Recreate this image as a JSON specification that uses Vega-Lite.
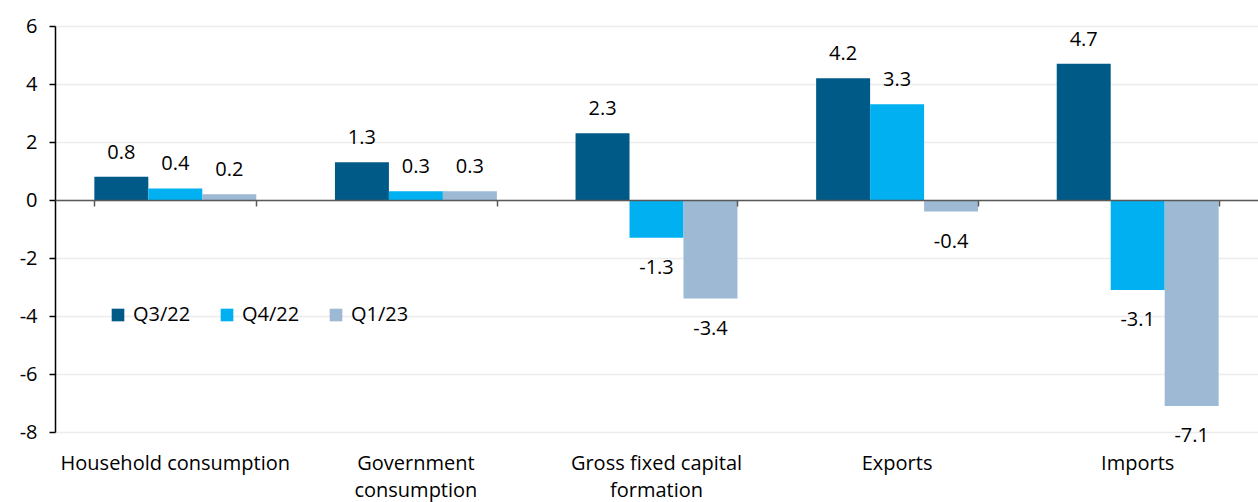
{
  "$schema": "https://vega.github.io/schema/vega-lite/v6.json",
  "width": 1203,
  "height": 406,
  "autosize": {"type": "none"},
  "padding": {"left": 55, "top": 26, "right": 0, "bottom": 70},
  "background": "white",
  "config": {
    "view": {"stroke": null},
    "font": "Open Sans",
    "locale": {"number": {"decimal": ".", "thousands": ",", "grouping": [3], "currency": ["$", ""], "minus": "-"}},
    "axis": {"labelFont": "Open Sans", "labelColor": "#000000"},
    "legend": {"labelFont": "Open Sans"}
  },
  "data": {
    "values": [
      {"category": "Household consumption", "series": "Q3/22", "value": 0.8},
      {"category": "Household consumption", "series": "Q4/22", "value": 0.4},
      {"category": "Household consumption", "series": "Q1/23", "value": 0.2},
      {"category": "Government consumption", "series": "Q3/22", "value": 1.3},
      {"category": "Government consumption", "series": "Q4/22", "value": 0.3},
      {"category": "Government consumption", "series": "Q1/23", "value": 0.3},
      {"category": "Gross fixed capital formation", "series": "Q3/22", "value": 2.3},
      {"category": "Gross fixed capital formation", "series": "Q4/22", "value": -1.3},
      {"category": "Gross fixed capital formation", "series": "Q1/23", "value": -3.4},
      {"category": "Exports", "series": "Q3/22", "value": 4.2},
      {"category": "Exports", "series": "Q4/22", "value": 3.3},
      {"category": "Exports", "series": "Q1/23", "value": -0.4},
      {"category": "Imports", "series": "Q3/22", "value": 4.7},
      {"category": "Imports", "series": "Q4/22", "value": -3.1},
      {"category": "Imports", "series": "Q1/23", "value": -7.1}
    ]
  },
  "encoding": {
    "x": {
      "field": "category",
      "type": "nominal",
      "sort": null,
      "scale": {"paddingInner": 0.327, "paddingOuter": 0.1635}
    },
    "xOffset": {
      "field": "series",
      "type": "nominal",
      "sort": ["Q3/22", "Q4/22", "Q1/23"],
      "scale": {"paddingInner": 0, "paddingOuter": 0}
    },
    "y": {
      "field": "value",
      "type": "quantitative",
      "scale": {"domain": [-8, 6], "nice": false, "zero": false}
    }
  },
  "layer": [
    {
      "mark": {"type": "bar"},
      "encoding": {
        "x": {
          "field": "category",
          "type": "nominal",
          "sort": null,
          "scale": {"paddingInner": 0.327, "paddingOuter": 0.1635},
          "axis": {
            "title": null,
            "orient": "bottom",
            "domain": false,
            "ticks": false,
            "grid": false,
            "labelFontSize": 20,
            "labelPadding": 21,
            "labelAngle": 0,
            "labelLimit": 0,
            "labelLineHeight": 27,
            "labelExpr": "datum.label == 'Government consumption' ? ['Government', 'consumption'] : datum.label == 'Gross fixed capital formation' ? ['Gross fixed capital', 'formation'] : datum.label"
          }
        },
        "y": {
          "field": "value",
          "type": "quantitative",
          "scale": {"domain": [-8, 6], "nice": false, "zero": false},
          "axis": {
            "title": null,
            "values": [-8, -6, -4, -2, 0, 2, 4, 6],
            "grid": true,
            "gridColor": "#ECECEC",
            "gridWidth": 1.5,
            "domainColor": "#000000",
            "domainWidth": 1.5,
            "tickColor": "#000000",
            "tickWidth": 1.5,
            "tickSize": 6,
            "labelFontSize": 20,
            "labelPadding": 12
          }
        },
        "color": {
          "field": "series",
          "type": "nominal",
          "sort": ["Q3/22", "Q4/22", "Q1/23"],
          "scale": {
            "domain": ["Q3/22", "Q4/22", "Q1/23"],
            "range": ["#005A87", "#00B0F0", "#9DB9D3"]
          },
          "legend": {
            "title": null,
            "orient": "none",
            "legendX": 53,
            "legendY": 279,
            "direction": "horizontal",
            "symbolType": "square",
            "symbolSize": 160,
            "symbolStrokeWidth": 0,
            "labelFontSize": 20,
            "labelOffset": 5,
            "columnPadding": 26,
            "labelColor": "#000000"
          }
        }
      }
    },
    {
      "transform": [{"filter": "datum.value >= 0"}],
      "mark": {"type": "text", "fontSize": 20, "baseline": "alphabetic", "dy": -18, "color": "#000000"},
      "encoding": {
        "x": {
          "field": "category",
          "type": "nominal",
          "sort": null,
          "scale": {"paddingInner": 0.327, "paddingOuter": 0.1635},
          "axis": {
            "title": null,
            "orient": "bottom",
            "offset": -232,
            "labels": false,
            "grid": false,
            "domain": true,
            "domainColor": "#595959",
            "domainWidth": 1.5,
            "ticks": true,
            "tickColor": "#595959",
            "tickWidth": 1.5,
            "tickSize": 6,
            "tickBand": "extent",
            "zindex": 1
          }
        },
        "y": {"field": "value", "type": "quantitative", "axis": null},
        "text": {"field": "value", "type": "quantitative", "format": ".1f"}
      }
    },
    {
      "transform": [{"filter": "datum.value < 0"}],
      "mark": {"type": "text", "fontSize": 20, "baseline": "alphabetic", "dy": 36, "color": "#000000"},
      "encoding": {
        "x": {"field": "category", "type": "nominal", "sort": null, "axis": null},
        "y": {"field": "value", "type": "quantitative", "axis": null},
        "text": {"field": "value", "type": "quantitative", "format": ".1f"}
      }
    }
  ],
  "resolve": {"axis": {"x": "independent", "y": "independent"}}
}
